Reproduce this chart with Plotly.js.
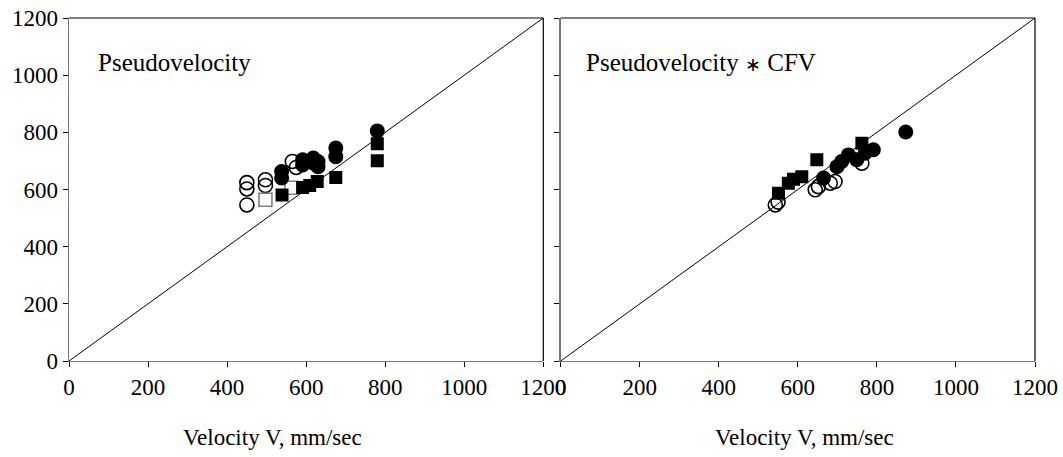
<!DOCTYPE html>
<html>
<head>
<meta charset="utf-8">
<script src="https://cdn.plot.ly/plotly-3.0.1.min.js"></script>
<style>html,body{margin:0;padding:0;background:#fff;}#chart{width:1063px;height:457px;}</style>
</head>
<body>
<div id="chart"></div>
<script>
// Left panel: Pseudovelocity vs Velocity V (mm/sec)
const leftOpenCircleV = [450, 450, 450, 497, 497, 565, 575];
const leftOpenCircleP = [624, 602, 546, 634, 614, 698, 677];
const leftOpenSquareV = [497, 563];
const leftOpenSquareP = [564, 606];
const leftFilledCircleV = [538, 538, 591, 591, 618, 618, 630, 630, 675, 675, 780];
const leftFilledCircleP = [663, 640, 704, 686, 710, 693, 698, 680, 745, 715, 805];
const leftFilledSquareV = [539, 591, 609, 628, 675, 780, 780];
const leftFilledSquareP = [581, 607, 614, 628, 642, 760, 701];

// Right panel: Pseudovelocity * CFV vs Velocity V (mm/sec)
const rightOpenCircleV = [543, 550, 644, 652, 682, 694, 762];
const rightOpenCircleP = [546, 556, 599, 610, 622, 628, 692];
const rightFilledCircleV = [665, 699, 711, 728, 749, 770, 791, 873];
const rightFilledCircleP = [640, 680, 698, 721, 704, 727, 739, 801];
const rightFilledSquareV = [551, 576, 589, 610, 648, 762];
const rightFilledSquareP = [587, 622, 636, 645, 704, 762];

const identityLine = [0, 1200];
const tickValues = [0, 200, 400, 600, 800, 1000, 1200];
const panelLabels = ["Pseudovelocity", "Pseudovelocity <span style=\"font-size:19px\">\u2217</span> CFV"];
const axisTitle = "Velocity V, mm/sec";

function openCircles(x, y, xa, ya) {
  return {x: x, y: y, xaxis: xa, yaxis: ya, mode: 'markers', type: 'scatter',
    marker: {symbol: 'circle-open', size: 14, color: '#000', line: {width: 1.6, color: '#000'}}};
}
function openSquares(x, y, xa, ya) {
  return {x: x, y: y, xaxis: xa, yaxis: ya, mode: 'markers', type: 'scatter',
    marker: {symbol: 'square-open', size: 13, color: '#808080', line: {width: 1.6, color: '#808080'}}};
}
function filledCircles(x, y, xa, ya) {
  return {x: x, y: y, xaxis: xa, yaxis: ya, mode: 'markers', type: 'scatter',
    marker: {symbol: 'circle', size: 15, color: '#000', line: {width: 0}}};
}
function filledSquares(x, y, xa, ya) {
  return {x: x, y: y, xaxis: xa, yaxis: ya, mode: 'markers', type: 'scatter',
    marker: {symbol: 'square', size: 13, color: '#000', line: {width: 0}}};
}
function diag(xa, ya) {
  return {x: identityLine, y: identityLine, xaxis: xa, yaxis: ya, mode: 'lines', type: 'scatter',
    line: {color: '#000', width: 1}, hoverinfo: 'skip'};
}

const data = [
  diag('x', 'y'),
  openCircles(leftOpenCircleV, leftOpenCircleP, 'x', 'y'),
  openSquares(leftOpenSquareV, leftOpenSquareP, 'x', 'y'),
  filledSquares(leftFilledSquareV, leftFilledSquareP, 'x', 'y'),
  filledCircles(leftFilledCircleV, leftFilledCircleP, 'x', 'y'),
  diag('x2', 'y2'),
  openCircles(rightOpenCircleV, rightOpenCircleP, 'x2', 'y2'),
  filledSquares(rightFilledSquareV, rightFilledSquareP, 'x2', 'y2'),
  filledCircles(rightFilledCircleV, rightFilledCircleP, 'x2', 'y2')
];

const serif = '"Liberation Serif", "Times New Roman", serif';
const tickFont = {family: serif, size: 23, color: '#000'};
function xAxis(domain, anchor) {
  return {domain: domain, anchor: anchor, range: [0, 1200], tickvals: tickValues,
    ticks: 'outside', ticklen: 5, tickcolor: '#000', tickwidth: 1,
    showline: true, linecolor: '#777', linewidth: 1.3, showgrid: false, zeroline: false,
    tickfont: tickFont, fixedrange: true};
}
function yAxis(anchor, showLabels) {
  return {domain: [0, 1], anchor: anchor, range: [0, 1200], tickvals: tickValues,
    ticks: 'outside', ticklen: 5, tickcolor: '#000', tickwidth: 1,
    showline: true, linecolor: '#777', linewidth: 1.3, showgrid: false, zeroline: false,
    showticklabels: showLabels, tickfont: tickFont, fixedrange: true};
}

const frameShapes = [];
[['x', 'y'], ['x2', 'y2']].forEach(function (p) {
  frameShapes.push({type: 'line', xref: p[0] + ' domain', yref: p[1] + ' domain',
    x0: 0, x1: 1, y0: 1, y1: 1, line: {color: '#000', width: 1.2}});
  frameShapes.push({type: 'line', xref: p[0] + ' domain', yref: p[1] + ' domain',
    x0: 1, x1: 1, y0: 0, y1: 1, line: {color: '#000', width: 1.2}});
});

const labelFont = {family: serif, size: 25, color: '#000'};
const titleFont = {family: serif, size: 23, color: '#000'};

const layout = {
  width: 1063, height: 457,
  margin: {l: 69, r: 28, t: 18, b: 96},
  paper_bgcolor: '#fff', plot_bgcolor: '#fff',
  showlegend: false,
  xaxis: xAxis([0, 0.491], 'y'),
  yaxis: yAxis('x', true),
  xaxis2: xAxis([0.509, 1], 'y2'),
  yaxis2: yAxis('x2', false),
  shapes: frameShapes,
  annotations: [
    {text: panelLabels[0], xref: 'x', yref: 'y', x: 68, y: 1043, xanchor: 'left', yanchor: 'middle', showarrow: false, font: labelFont},
    {text: panelLabels[1], xref: 'x2', yref: 'y2', x: 58, y: 1043, xanchor: 'left', yanchor: 'middle', showarrow: false, font: labelFont},
    {text: axisTitle, xref: 'x domain', yref: 'paper', x: 0.43, y: -0.222, xanchor: 'center', yanchor: 'middle', showarrow: false, font: titleFont},
    {text: axisTitle, xref: 'x2 domain', yref: 'paper', x: 0.513, y: -0.222, xanchor: 'center', yanchor: 'middle', showarrow: false, font: titleFont}
  ]
};

Plotly.newPlot('chart', data, layout, {staticPlot: true, displayModeBar: false});
</script>
</body>
</html>
